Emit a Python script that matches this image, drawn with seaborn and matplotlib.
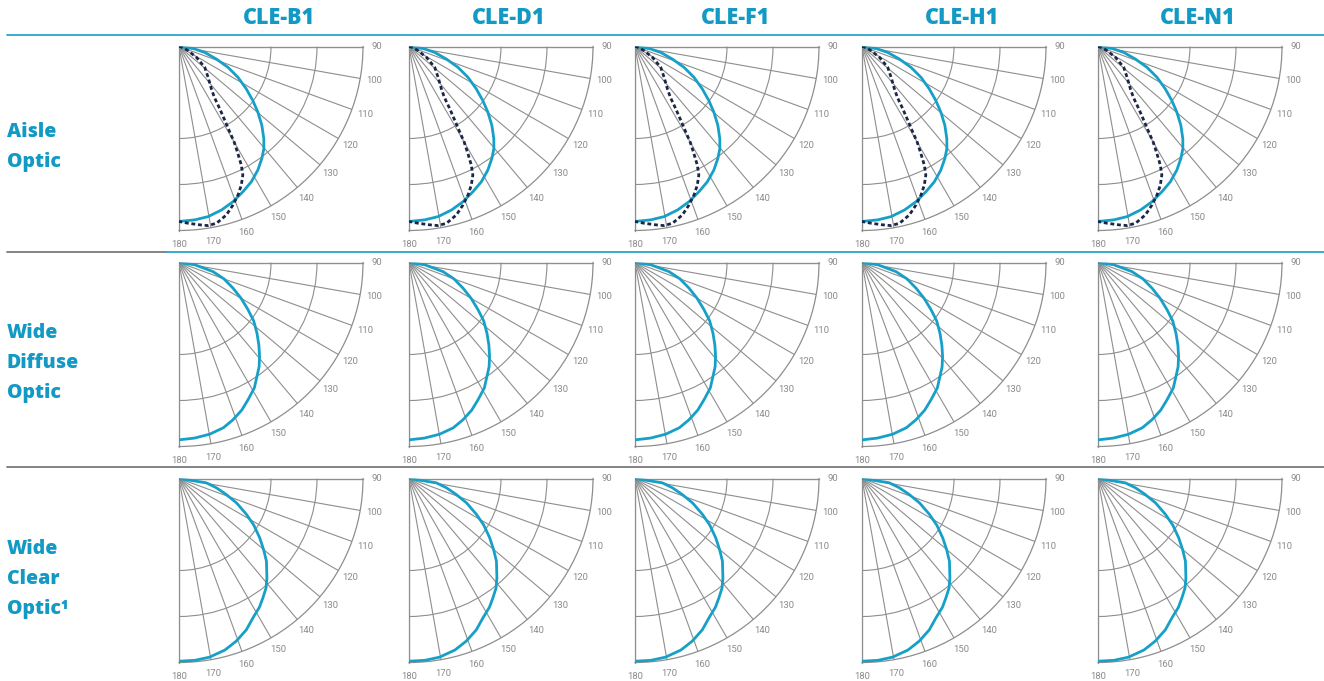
import numpy as np
import pandas as pd
import matplotlib
matplotlib.use("Agg")
import matplotlib.pyplot as plt
from matplotlib.lines import Line2D
import seaborn as sns

# ---------------- data ----------------
columns = ["CLE-B1", "CLE-D1", "CLE-F1", "CLE-H1", "CLE-N1"]
rows = ["Aisle\nOptic", "Wide\nDiffuse\nOptic", "Wide\nClear\nOptic¹"]
tick_angles = [90, 100, 110, 120, 130, 140, 150, 160, 170, 180]
tick_labels = ["90", "100", "110", "120", "130", "140", "150", "160", "170", "180"]
ring_values = [0.5, 0.75]

# Aisle optic - solid (blue) curve
aisle_solid_deg = [90, 98, 103, 108.6, 113.1, 117.6, 122.2, 126.2, 129.8, 133.6, 137.4,
                   140.3, 143.5, 147.5, 151.9, 156.2, 160.8, 165.4, 170.3, 174.8, 180]
aisle_solid_r = [0, 0.078, 0.144, 0.215, 0.29, 0.362, 0.432, 0.497, 0.558, 0.622, 0.681,
                 0.722, 0.757, 0.797, 0.834, 0.862, 0.893, 0.918, 0.938, 0.946, 0.951]
# Aisle optic - dashed (navy) curve
aisle_dash_deg = [90, 100, 110, 115, 122, 129, 136.6, 142.6, 145.2, 146.8, 148.2, 149.3,
                  150.0, 151.2, 152.3, 153.6, 155.8, 158.3, 161.2, 164.3, 168, 170.8,
                  173.3, 177, 180]
aisle_dash_r = [0, 0.01, 0.03, 0.056, 0.113, 0.18, 0.23, 0.29, 0.337, 0.405, 0.472, 0.54,
                0.6, 0.665, 0.729, 0.78, 0.826, 0.868, 0.91, 0.951, 0.982, 0.986,
                0.976, 0.962, 0.951]
# Wide diffuse optic
diffuse_deg = [90, 98, 105, 110, 115.4, 120, 124.4, 128, 132.2, 136, 139.4, 142.5,
               145.6, 149, 153.3, 157, 161.1, 165, 169.9, 175, 180]
diffuse_r = [0, 0.085, 0.191, 0.26, 0.325, 0.39, 0.455, 0.515, 0.572, 0.625, 0.673, 0.715,
             0.75, 0.795, 0.835, 0.872, 0.904, 0.93, 0.948, 0.958, 0.964]
# Wide clear optic
clear_deg = [90, 99, 104, 108.7, 113, 118, 122, 126.3, 130, 133.4, 138.5, 141.5,
             144.9, 148, 152, 156, 160.6, 165, 170.3, 175, 180]
clear_r = [0, 0.15, 0.21, 0.271, 0.34, 0.415, 0.48, 0.544, 0.6, 0.654, 0.721, 0.76,
           0.793, 0.825, 0.857, 0.9, 0.937, 0.965, 0.985, 0.992, 0.993]

row_curves = [
    [(aisle_solid_deg, aisle_solid_r, "solid"), (aisle_dash_deg, aisle_dash_r, "dash")],
    [(diffuse_deg, diffuse_r, "solid")],
    [(clear_deg, clear_r, "solid")],
]

# ---------------- style ----------------
sns.set_style("white")
plt.rcParams["font.family"] = ["Open Sans", "DejaVu Sans"]

BLUE = "#16a0c8"
HEAD = "#1299c4"
NAVY = "#1b2747"
GRID = "#8e8e8e"
LAB = "#8a8a8a"

W, H = 1324, 681
fig = plt.figure(figsize=(W / 100, H / 100), dpi=100)

col_x = [179, 409, 635, 862, 1098]
row_y = [46.5, 262.5, 478.5]
R = 184

for ri, oy in enumerate(row_y):
    for ci, ox in enumerate(col_x):
        ax = fig.add_axes([ox / W, 1 - (oy + R) / H, R / W, R / H], projection="polar")
        ax.set_theta_zero_location("N")
        ax.set_theta_direction(-1)
        ax.set_thetamin(90)
        ax.set_thetamax(180)
        ax.set_rlim(0, 1)
        ax.set_xticks(np.deg2rad(tick_angles))
        ax.set_xticklabels([])
        ax.set_yticks(ring_values)
        ax.set_yticklabels([])
        ax.tick_params(length=0)
        ax.grid(True, color=GRID, lw=0.8)
        for sp in ax.spines.values():
            sp.set_color(GRID)
            sp.set_linewidth(0.9)
        ax.set_facecolor("none")
        for deg, lab in zip(tick_angles, tick_labels):
            ax.text(np.deg2rad(deg), 1.075, lab, ha="center", va="center",
                    fontsize=6.8, color=LAB, family=["Roboto", "DejaVu Sans"],
                    clip_on=False)
        for deg, rv, kind in row_curves[ri]:
            df = pd.DataFrame({"theta": np.deg2rad(deg), "r": rv})
            if kind == "solid":
                sns.lineplot(data=df, x="theta", y="r", ax=ax, sort=False, estimator=None,
                             color=BLUE, lw=2.0, zorder=5)
            else:
                sns.lineplot(data=df, x="theta", y="r", ax=ax, sort=False, estimator=None,
                             color=NAVY, lw=2.0, zorder=6, linestyle=(0, (1.4, 1.0)))
        ax.set_xlabel("")
        ax.set_ylabel("")
        ax.set_rlim(0, 1)

# column headers
for ox, name in zip(col_x, columns):
    fig.text((ox + 100) / W, 1 - 18 / H, name, ha="center", va="center",
             fontsize=15.5, fontweight=800, color=HEAD)

# row labels
row_label_top = [132, 333, 549]
for yt, lab in zip(row_label_top, rows):
    for k, line in enumerate(lab.split("\n")):
        fig.text(7 / W, 1 - (yt + 30 * k) / H, line, ha="left", va="center",
                 fontsize=14, fontweight=800, color=HEAD)

# separator lines
def hline(y, x0, x1, color):
    fig.add_artist(Line2D([x0 / W, x1 / W], [1 - y / H, 1 - y / H], color=color,
                          lw=1.3, transform=fig.transFigure))

hline(35, 7, W, "#2aa5cc")
hline(252, 7, 166, "#7a7a7a")
hline(252, 166, W, "#2aa5cc")
hline(467, 7, W, "#7a7a7a")

fig.savefig("out.png", dpi=100)
